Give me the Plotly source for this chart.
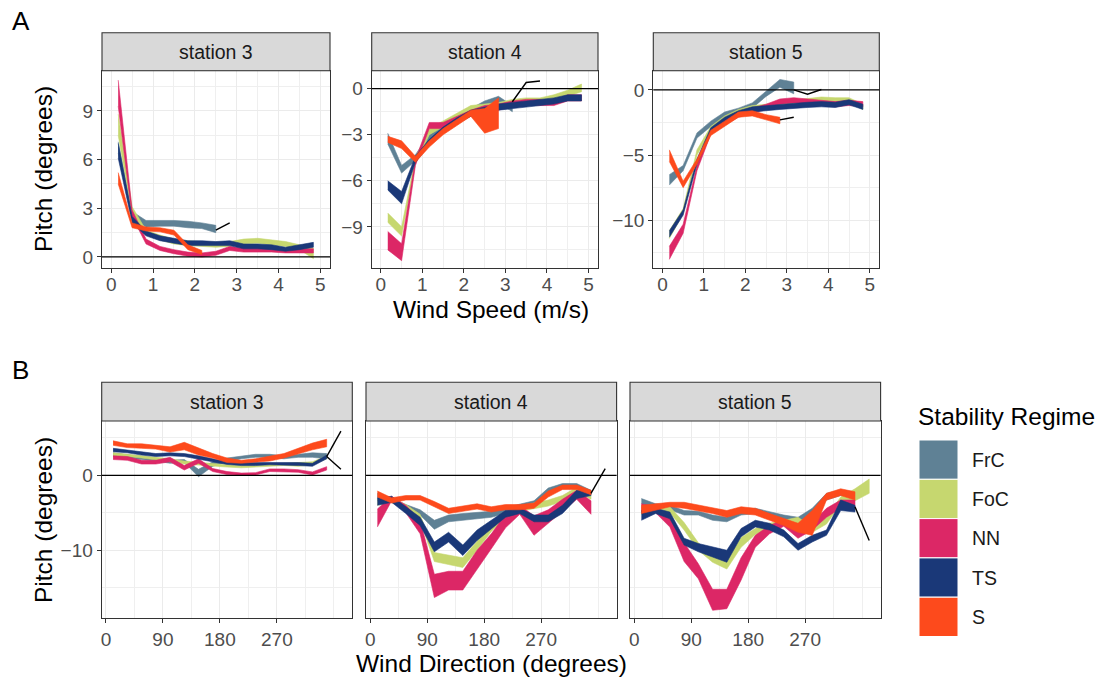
import plotly.graph_objects as go

# ---------------- data ----------------
regimes = ["FrC", "FoC", "NN", "TS", "S"]
colors = {"FrC": "#5F8195", "FoC": "#C6D76F", "NN": "#DC2766", "TS": "#1A3878", "S": "#FD4A1C"}
stations = ["station 3", "station 4", "station 5"]

speed_x = [0.167, 0.5, 0.833, 1.167, 1.5, 1.833, 2.167, 2.5, 2.833, 3.167, 3.5, 3.833, 4.167, 4.5, 4.833]
dir_x = [11.25, 33.75, 56.25, 78.75, 101.25, 123.75, 146.25, 168.75, 191.25, 213.75,
         236.25, 258.75, 281.25, 303.75, 326.25, 348.75, 371.25]
speed_ticks = [0, 1, 2, 3, 4, 5]
dir_ticks = [0, 90, 180, 270]

# --- Panel A: pitch vs wind speed (lower / upper of ribbon) ---
ws3_FrC_lo = [6.4, 2.4, 1.85, 1.9, 1.9, 1.8, 1.75, 1.5]
ws3_FrC_hi = [7.1, 2.8, 2.25, 2.25, 2.25, 2.2, 2.1, 1.95]
ws3_FoC_lo = [7.5, 2.7, 1.35, 1.05, 0.8, 0.7, 0.65, 0.6, 0.65, 0.8, 0.85, 0.75, 0.65, 0.45, -0.1]
ws3_FoC_hi = [8.8, 3.1, 1.65, 1.35, 1.1, 1.0, 0.95, 0.9, 0.95, 1.1, 1.15, 1.05, 0.95, 0.75, 0.55]
ws3_NN_lo = [9.3, 2.5, 0.8, 0.4, 0.2, 0.05, 0.0, 0.1, 0.4, 0.3, 0.3, 0.3, 0.25, 0.25, 0.25]
ws3_NN_hi = [10.9, 2.9, 1.1, 0.65, 0.45, 0.3, 0.25, 0.35, 0.65, 0.55, 0.55, 0.55, 0.5, 0.5, 0.5]
ws3_TS_lo = [6.1, 2.1, 1.3, 1.0, 0.85, 0.7, 0.7, 0.7, 0.7, 0.5, 0.5, 0.45, 0.35, 0.45, 0.6]
ws3_TS_hi = [7.0, 2.5, 1.6, 1.3, 1.15, 1.0, 1.0, 0.95, 1.0, 0.8, 0.8, 0.75, 0.6, 0.75, 0.9]
ws3_S_lo = [4.5, 1.8, 1.6, 1.55, 1.35, 0.45, 0.15]
ws3_S_hi = [5.2, 2.1, 1.85, 1.8, 1.65, 0.75, 0.4]
ws3_black_x = [2.5, 2.833]
ws3_black_y = [1.65, 2.1]

ws4_FrC_lo = [-3.6, -5.5, -4.7, -3.4, -2.8, -2.2, -1.7, -1.2, -0.9, -1.5]
ws4_FrC_hi = [-2.9, -5.0, -4.3, -3.0, -2.4, -1.8, -1.3, -0.8, -0.5, -1.1]
ws4_FoC_lo = [-8.7, -9.6, -4.9, -3.0, -2.5, -2.0, -1.5, -1.4, -1.3, -1.1, -1.0, -1.0, -0.8, -0.5, -0.2]
ws4_FoC_hi = [-8.1, -9.0, -4.5, -2.6, -2.1, -1.6, -1.1, -1.0, -0.9, -0.7, -0.6, -0.6, -0.4, -0.1, 0.3]
ws4_NN_lo = [-10.5, -11.2, -5.0, -2.6, -2.6, -2.2, -1.8, -1.5, -1.4, -1.2, -1.1, -1.1, -1.1, -0.8, -0.8]
ws4_NN_hi = [-9.3, -10.1, -4.6, -2.2, -2.2, -1.8, -1.4, -1.1, -1.0, -0.8, -0.7, -0.7, -0.8, -0.4, -0.4]
ws4_TS_lo = [-6.6, -7.5, -4.8, -3.7, -2.9, -2.3, -1.8, -1.6, -1.4, -1.3, -1.2, -1.1, -1.0, -0.8, -0.8]
ws4_TS_hi = [-6.0, -6.7, -4.4, -3.3, -2.5, -1.9, -1.4, -1.2, -1.0, -0.9, -0.8, -0.7, -0.6, -0.4, -0.4]
ws4_S_lo = [-3.5, -3.9, -4.8, -3.8, -3.0, -2.4, -1.8, -2.9, -2.6]
ws4_S_hi = [-3.1, -3.4, -4.4, -3.4, -2.6, -2.0, -1.4, -1.3, -0.6]
ws4_black_x = [3.167, 3.5, 3.833]
ws4_black_y = [-0.85, 0.4, 0.5]

ws5_FrC_lo = [-7.3, -6.2, -3.7, -2.8, -2.1, -1.8, -1.4, -0.5, 0.2, -0.3]
ws5_FrC_hi = [-6.5, -5.8, -3.3, -2.4, -1.7, -1.4, -1.0, -0.1, 0.8, 0.6]
ws5_FoC_lo = [-11.4, -9.5, -5.0, -3.2, -2.4, -1.9, -1.6, -1.5, -1.3, -1.2, -1.1, -0.95, -1.0, -1.0, -1.5]
ws5_FoC_hi = [-10.8, -9.1, -4.6, -2.8, -2.0, -1.5, -1.2, -1.1, -0.9, -0.8, -0.7, -0.55, -0.6, -0.6, -1.1]
ws5_NN_lo = [-13.0, -11.0, -6.2, -3.4, -2.7, -2.1, -1.8, -1.5, -1.1, -1.0, -1.1, -1.2, -1.3, -1.2, -1.3]
ws5_NN_hi = [-12.0, -10.3, -5.8, -3.0, -2.3, -1.7, -1.4, -1.1, -0.7, -0.6, -0.7, -0.8, -0.9, -0.8, -0.9]
ws5_TS_lo = [-11.3, -9.6, -5.7, -3.3, -2.5, -2.0, -1.7, -1.6, -1.5, -1.4, -1.35, -1.3, -1.35, -1.15, -1.5]
ws5_TS_hi = [-10.8, -9.2, -5.3, -2.9, -2.1, -1.6, -1.3, -1.2, -1.1, -1.0, -0.95, -0.9, -0.95, -0.75, -1.1]
ws5_S_lo = [-5.5, -7.5, -5.7, -3.5, -2.8, -2.1, -2.0, -2.3, -2.6]
ws5_S_hi = [-4.6, -7.0, -5.3, -3.1, -2.4, -1.7, -1.6, -1.9, -2.1]
ws5_black_a_x = [3.167, 3.5, 3.833]
ws5_black_a_y = [0.0, -0.33, 0.03]
ws5_black_b_x = [2.833, 3.167]
ws5_black_b_y = [-2.3, -2.1]

# --- Panel B: pitch vs wind direction ---
wd3_FrC_lo = [2.5, 2.3, 2.1, 1.9, 1.6, 1.7, -0.2, 1.2, 1.8, 2.2, 2.4, 2.4, 2.2, 2.4, 2.4, 2.2]
wd3_FrC_hi = [3.0, 2.8, 2.5, 2.3, 2.0, 2.1, 0.8, 1.8, 2.3, 2.6, 2.8, 2.8, 2.6, 2.8, 3.0, 2.9]
wd3_FoC_lo = [2.6, 2.5, 2.3, 2.1, 1.8, 1.5, 1.3, 1.2, 1.1, 1.0, 1.0, 1.2, 1.3, 1.2, 1.4, 2.2]
wd3_FoC_hi = [3.0, 2.8, 2.7, 2.5, 2.2, 1.9, 1.7, 1.6, 1.4, 1.3, 1.3, 1.5, 1.6, 1.6, 1.8, 2.6]
wd3_NN_lo = [2.1, 2.0, 1.5, 1.5, 1.8, 0.7, 1.6, 0.5, 0.1, 0.0, 0.05, 0.5, 0.5, 0.4, 0.05, 0.7]
wd3_NN_hi = [2.6, 2.5, 2.0, 2.0, 2.4, 1.3, 2.2, 0.9, 0.5, 0.3, 0.35, 0.85, 0.85, 0.75, 0.45, 1.15]
wd3_TS_lo = [3.15, 3.0, 2.7, 2.5, 2.6, 2.5, 2.2, 1.8, 1.45, 1.3, 1.3, 1.4, 1.4, 1.3, 1.2, 2.2]
wd3_TS_hi = [3.6, 3.4, 3.1, 2.9, 3.0, 2.9, 2.6, 2.2, 1.8, 1.7, 1.7, 1.8, 1.8, 1.7, 1.6, 2.7]
wd3_S_lo = [4.0, 3.7, 3.6, 3.5, 3.1, 3.4, 2.7, 2.3, 1.7, 1.6, 1.7, 1.9, 2.3, 2.8, 3.4, 3.8]
wd3_S_hi = [4.6, 4.2, 4.2, 4.0, 3.8, 4.4, 3.6, 2.9, 2.3, 2.0, 2.2, 2.5, 2.9, 3.6, 4.3, 4.8]
wd3_black_a_x = [348.75, 371.25]
wd3_black_a_y = [2.5, 5.9]
wd3_black_b_x = [348.75, 371.25]
wd3_black_b_y = [2.5, 0.8]

wd4_FrC_lo = [-3.4, -3.6, -4.5, -5.3, -7.2, -6.2, -6.0, -5.8, -5.6, -5.1, -4.5, -4.2, -2.6, -1.8, -1.7, -2.6]
wd4_FrC_hi = [-2.4, -3.0, -3.9, -4.6, -6.0, -5.3, -5.1, -5.0, -4.8, -4.3, -3.8, -3.4, -1.7, -1.1, -1.1, -2.0]
wd4_FoC_lo = [-4.0, -3.6, -4.5, -6.0, -11.5, -11.9, -12.3, -10.0, -7.5, -5.6, -4.8, -4.5, -4.1, -3.5, -2.2, -3.2]
wd4_FoC_hi = [-3.2, -3.0, -3.9, -5.2, -10.3, -10.7, -11.0, -8.8, -6.5, -4.9, -4.2, -3.7, -3.3, -2.7, -1.6, -2.6]
wd4_NN_lo = [-6.9, -3.4, -5.0, -7.8, -16.3, -15.3, -15.3, -12.5, -9.8, -7.0, -5.2, -8.0, -6.4, -4.8, -3.2, -5.2]
wd4_NN_hi = [-4.5, -2.8, -4.0, -6.0, -13.2, -12.8, -12.8, -10.0, -7.8, -5.2, -4.0, -5.4, -4.6, -3.2, -2.0, -3.4]
wd4_TS_lo = [-4.0, -3.6, -5.1, -6.7, -10.2, -8.9, -10.7, -8.7, -7.1, -5.6, -5.1, -6.2, -6.2, -5.1, -3.1, -2.7]
wd4_TS_hi = [-3.0, -2.8, -4.2, -5.6, -8.9, -7.6, -9.3, -7.3, -6.0, -4.7, -4.4, -5.3, -5.3, -4.0, -2.0, -2.0]
wd4_S_lo = [-2.9, -3.7, -3.3, -3.3, -4.2, -5.1, -4.8, -4.5, -4.9, -4.6, -4.6, -4.4, -2.9, -1.9, -1.9, -2.6]
wd4_S_hi = [-2.1, -3.0, -2.7, -2.7, -3.5, -4.4, -4.1, -3.8, -4.2, -3.9, -3.9, -3.7, -2.1, -1.3, -1.3, -2.0]
wd4_black_x = [348.75, 371.25]
wd4_black_y = [-2.4, 0.9]

wd5_FrC_lo = [-3.8, -4.4, -4.6, -5.3, -5.3, -6.0, -6.2, -5.3, -5.1, -5.6, -6.0, -6.2, -5.3, -3.3, -2.7, -2.9]
wd5_FrC_hi = [-3.1, -3.8, -4.0, -4.7, -4.8, -5.3, -5.6, -4.7, -4.4, -4.9, -5.3, -5.6, -4.4, -2.4, -2.0, -2.2]
wd5_FoC_lo = [-5.2, -4.6, -5.0, -7.3, -10.0, -11.6, -12.5, -9.6, -7.9, -7.3, -6.7, -6.5, -7.6, -6.5, -3.8, -3.4, -2.4]
wd5_FoC_hi = [-4.2, -3.9, -4.2, -6.3, -9.0, -10.8, -11.2, -8.3, -7.1, -6.4, -6.0, -5.6, -6.9, -5.6, -2.9, -1.8, -0.5]
wd5_NN_lo = [-4.9, -5.0, -6.9, -11.5, -13.8, -18.0, -17.8, -14.0, -9.6, -7.8, -6.8, -8.4, -7.3, -5.6, -4.4, -4.2]
wd5_NN_hi = [-3.8, -4.2, -5.6, -9.0, -11.8, -15.2, -15.2, -11.0, -8.0, -6.7, -5.9, -7.0, -6.3, -4.4, -3.3, -3.3]
wd5_TS_lo = [-6.0, -5.1, -5.8, -9.3, -10.2, -10.9, -11.6, -8.2, -6.9, -7.3, -8.2, -10.0, -8.9, -8.0, -4.7, -4.9]
wd5_TS_hi = [-4.7, -4.4, -4.9, -8.4, -9.1, -9.6, -10.0, -7.1, -6.0, -6.4, -7.3, -9.1, -8.0, -7.3, -3.3, -4.0]
wd5_S_lo = [-5.1, -4.7, -4.2, -4.4, -4.7, -5.1, -5.6, -5.1, -5.3, -6.0, -6.7, -7.6, -8.0, -3.3, -2.7, -3.3]
wd5_S_hi = [-4.0, -3.8, -3.6, -3.6, -4.0, -4.4, -4.7, -4.2, -4.4, -5.1, -5.8, -6.4, -4.7, -2.4, -1.8, -2.2]
wd5_black_x = [348.75, 371.25]
wd5_black_y = [-4.2, -8.7]

# ---------------- figure ----------------
W, H = 1107, 685
FONT = "Liberation Sans, Arial, sans-serif"
fig = go.Figure()

ribbons = [
    {"FrC": (ws3_FrC_lo, ws3_FrC_hi), "FoC": (ws3_FoC_lo, ws3_FoC_hi), "NN": (ws3_NN_lo, ws3_NN_hi),
     "TS": (ws3_TS_lo, ws3_TS_hi), "S": (ws3_S_lo, ws3_S_hi)},
    {"FrC": (ws4_FrC_lo, ws4_FrC_hi), "FoC": (ws4_FoC_lo, ws4_FoC_hi), "NN": (ws4_NN_lo, ws4_NN_hi),
     "TS": (ws4_TS_lo, ws4_TS_hi), "S": (ws4_S_lo, ws4_S_hi)},
    {"FrC": (ws5_FrC_lo, ws5_FrC_hi), "FoC": (ws5_FoC_lo, ws5_FoC_hi), "NN": (ws5_NN_lo, ws5_NN_hi),
     "TS": (ws5_TS_lo, ws5_TS_hi), "S": (ws5_S_lo, ws5_S_hi)},
    {"FrC": (wd3_FrC_lo, wd3_FrC_hi), "FoC": (wd3_FoC_lo, wd3_FoC_hi), "NN": (wd3_NN_lo, wd3_NN_hi),
     "TS": (wd3_TS_lo, wd3_TS_hi), "S": (wd3_S_lo, wd3_S_hi)},
    {"FrC": (wd4_FrC_lo, wd4_FrC_hi), "FoC": (wd4_FoC_lo, wd4_FoC_hi), "NN": (wd4_NN_lo, wd4_NN_hi),
     "TS": (wd4_TS_lo, wd4_TS_hi), "S": (wd4_S_lo, wd4_S_hi)},
    {"FrC": (wd5_FrC_lo, wd5_FrC_hi), "FoC": (wd5_FoC_lo, wd5_FoC_hi), "NN": (wd5_NN_lo, wd5_NN_hi),
     "TS": (wd5_TS_lo, wd5_TS_hi), "S": (wd5_S_lo, wd5_S_hi)},
]
blacks = [
    [(ws3_black_x, ws3_black_y)],
    [(ws4_black_x, ws4_black_y)],
    [(ws5_black_a_x, ws5_black_a_y), (ws5_black_b_x, ws5_black_b_y)],
    [(wd3_black_a_x, wd3_black_a_y), (wd3_black_b_x, wd3_black_b_y)],
    [(wd4_black_x, wd4_black_y)],
    [(wd5_black_x, wd5_black_y)],
]

# panel layout (pixels)
panels = [
    dict(px=(102, 330), py=(70.7, 268), sy=32.7, xr=(-0.22, 5.23), yr=(-0.68, 11.48), ydt=3, top=True, ylab=True),
    dict(px=(371.7, 598), py=(70.7, 268), sy=32.7, xr=(-0.22, 5.23), yr=(-11.68, 1.17), ydt=3, top=True, ylab=True),
    dict(px=(653.3, 879.3), py=(70.7, 268), sy=32.7, xr=(-0.22, 5.23), yr=(-13.66, 1.47), ydt=5, top=True, ylab=True),
    dict(px=(101.7, 352.3), py=(421, 618.3), sy=382.3, xr=(-6.75, 389.25), yr=(-19.07, 7.24), ydt=10, top=False, ylab=True),
    dict(px=(366, 616.6), py=(421, 618.3), sy=382.3, xr=(-6.75, 389.25), yr=(-19.07, 7.24), ydt=10, top=False, ylab=False),
    dict(px=(630, 880.6), py=(421, 618.3), sy=382.3, xr=(-6.75, 389.25), yr=(-19.07, 7.24), ydt=10, top=False, ylab=False),
]

shapes = []
annotations = []
layout_axes = {}
for i, p in enumerate(panels):
    n = i + 1
    xa = "x" if n == 1 else f"x{n}"
    ya = "y" if n == 1 else f"y{n}"
    xs = speed_x if p["top"] else dir_x
    for reg in regimes:
        lo, hi = ribbons[i][reg]
        xx = xs[:len(lo)]
        fig.add_trace(go.Scatter(
            x=list(xx) + list(xx[::-1]), y=list(hi) + list(lo[::-1]),
            fill="toself", fillcolor=colors[reg], mode="lines",
            line=dict(color=colors[reg], width=0.6),
            xaxis=xa, yaxis=ya, showlegend=False, hoverinfo="skip"))
    for bx, by in blacks[i]:
        fig.add_trace(go.Scatter(x=bx, y=by, mode="lines", line=dict(color="black", width=1.4),
                                 xaxis=xa, yaxis=ya, showlegend=False, hoverinfo="skip"))

    grid = dict(showgrid=True, gridcolor="#EBEBEB", gridwidth=1.3, zeroline=False,
                showline=True, mirror=True, linecolor="#333333", linewidth=1.1,
                tickfont=dict(family=FONT, size=19, color="#4D4D4D"))
    xaxis = dict(grid, domain=[p["px"][0] / W, p["px"][1] / W], range=list(p["xr"]), anchor=ya,
                 ticks="outside", ticklen=4, tickcolor="#333333", tickwidth=1.1)
    if p["top"]:
        xaxis.update(tickmode="array", tickvals=speed_ticks, ticklabelstandoff=-5,
                     minor=dict(tick0=0, dtick=0.5, showgrid=True, gridcolor="#EFEFEF", gridwidth=0.7))
    else:
        xaxis.update(tickmode="array", tickvals=dir_ticks,
                     minor=dict(tick0=0, dtick=45, showgrid=True, gridcolor="#EFEFEF", gridwidth=0.7))
    yaxis = dict(grid, domain=[1 - p["py"][1] / H, 1 - p["py"][0] / H], range=list(p["yr"]), anchor=xa,
                 tickmode="linear", tick0=0, dtick=p["ydt"],
                 minor=dict(tick0=0, dtick=p["ydt"] / 2, showgrid=True, gridcolor="#EFEFEF", gridwidth=0.7))
    if p["ylab"]:
        yaxis.update(ticks="outside", ticklen=4, tickcolor="#333333", tickwidth=1.1)
    else:
        yaxis.update(ticks="", showticklabels=False)
    layout_axes["xaxis" if n == 1 else f"xaxis{n}"] = xaxis
    layout_axes["yaxis" if n == 1 else f"yaxis{n}"] = yaxis

    # zero reference line
    shapes.append(dict(type="line", xref=f"{xa} domain", yref=ya, x0=0, x1=1, y0=0, y1=0,
                       line=dict(color="black", width=1.3), layer="above"))
    # strip
    shapes.append(dict(type="rect", xref="paper", yref="paper",
                       x0=p["px"][0] / W, x1=p["px"][1] / W,
                       y0=1 - p["py"][0] / H, y1=1 - p["sy"] / H,
                       fillcolor="#D9D9D9", line=dict(color="#333333", width=1.1)))
    annotations.append(dict(text=stations[i % 3], xref="paper", yref="paper",
                            x=(p["px"][0] + p["px"][1]) / 2 / W, y=1 - (p["sy"] + p["py"][0]) / 2 / H,
                            showarrow=False, font=dict(family=FONT, size=19.5, color="#1A1A1A"),
                            xanchor="center", yanchor="middle"))

# titles
def ann(text, x, y, size, angle=0, xanchor="center", color="black"):
    annotations.append(dict(text=text, xref="paper", yref="paper", x=x / W, y=1 - y / H, showarrow=False,
                            textangle=angle, xanchor=xanchor, yanchor="middle",
                            font=dict(family=FONT, size=size, color=color)))

ann("A", 10, 21, 26, xanchor="left")
ann("B", 10, 370, 26, xanchor="left")
ann("Pitch (degrees)", 43, 169, 24.5, angle=-90)
ann("Pitch (degrees)", 43, 520, 24.5, angle=-90)
ann("Wind Speed (m/s)", 490.5, 309, 24.5)
ann("Wind Direction (degrees)", 491, 663, 24.5)

# legend (manual, ggplot style)
ann("Stability Regime", 916, 416, 24.5, xanchor="left")
key_h = 39.3
for k, reg in enumerate(regimes):
    y0 = 440 + k * key_h
    shapes.append(dict(type="rect", xref="paper", yref="paper", x0=919 / W, x1=958 / W,
                       y0=1 - (y0 + key_h) / H, y1=1 - y0 / H,
                       fillcolor=colors[reg], line=dict(color="white", width=1)))
    ann(reg, 970, y0 + key_h / 2, 19.5, xanchor="left", color="#1A1A1A")

fig.update_layout(
    width=W, height=H, margin=dict(l=0, r=0, t=0, b=0),
    paper_bgcolor="white", plot_bgcolor="white",
    shapes=shapes, annotations=annotations, showlegend=False,
    font=dict(family=FONT), **layout_axes)

fig.write_html("out.html")
